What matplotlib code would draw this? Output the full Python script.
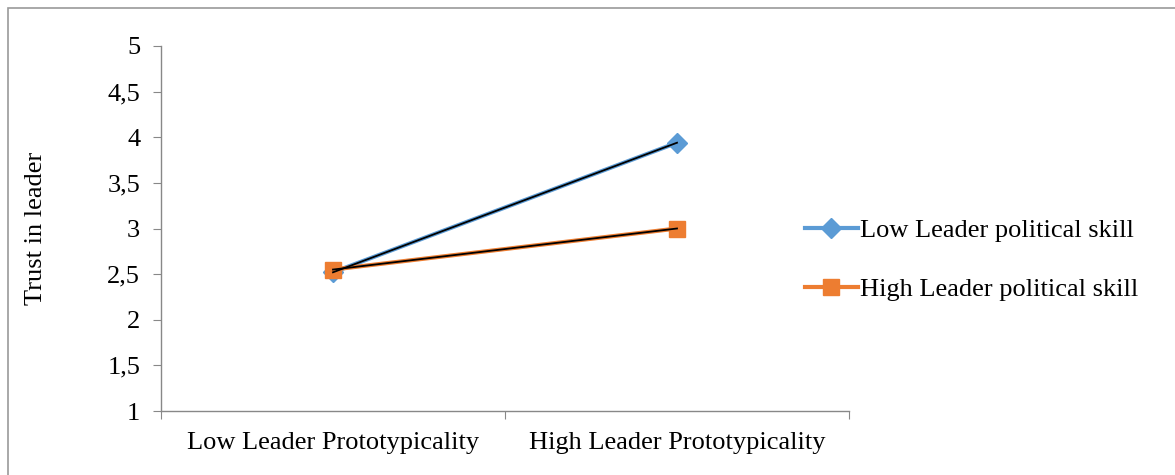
import matplotlib.pyplot as plt
from matplotlib.patches import Rectangle

plt.rcParams['font.family'] = ['Liberation Serif', 'DejaVu Serif']

categories = ["Low Leader Prototypicality", "High Leader Prototypicality"]
series_names = ["Low Leader political skill", "High Leader political skill"]
low_skill = [2.52, 3.94]
high_skill = [2.55, 3.00]
y_ticks = [1, 1.5, 2, 2.5, 3, 3.5, 4, 4.5, 5]
y_labels = ["1", "1,5", "2", "2,5", "3", "3,5", "4", "4,5", "5"]

blue = "#5B9BD5"
orange = "#ED7D31"
spine_col = "#888888"
fs = 19

fig = plt.figure(figsize=(11.75, 4.75), dpi=100)
ax = fig.add_axes([161 / 1175, 1 - 411 / 475, (849 - 161) / 1175, (411 - 46) / 475])

# outer chart frame (cropped on right and bottom)
fig.patches.append(Rectangle((8 / 1175, -0.1), 1.2, 1 - 8 / 475 + 0.1,
                             transform=fig.transFigure, fill=False,
                             edgecolor="#9a9a9a", linewidth=1.2))

x = [0, 1]
ax.plot(x, low_skill, color=blue, lw=3, marker="D", ms=10, label=series_names[0], zorder=3)
ax.plot(x, high_skill, color=orange, lw=3, marker="s", ms=12, label=series_names[1], zorder=4)
# thin dark lines drawn over the coloured ones
ax.plot(x, low_skill, color="black", lw=1.3, zorder=5)
ax.plot(x, high_skill, color="black", lw=1.3, zorder=5)

ax.set_xlim(-0.5, 1.5)
ax.set_ylim(1, 5)
ax.set_yticks(y_ticks)
ax.set_yticklabels(y_labels, fontsize=fs)
ax.set_xticks([-0.5, 0.5, 1.5])
ax.set_xticklabels([])
ax.set_xticks(x, minor=True)
ax.set_xticklabels(categories, minor=True, fontsize=fs)
ax.tick_params(axis="x", which="minor", length=0, pad=15)
ax.tick_params(axis="x", which="major", length=6, color=spine_col, direction="out")
ax.tick_params(axis="y", length=6, color=spine_col, direction="out", pad=9)

for s in ["top", "right"]:
    ax.spines[s].set_visible(False)
for s in ["left", "bottom"]:
    ax.spines[s].set_color(spine_col)
    ax.spines[s].set_linewidth(1)

ax.set_ylabel("Trust in leader", fontsize=fs)
ax.yaxis.set_label_coords(-0.166, 0.5)

leg = ax.legend(loc="center left", bbox_to_anchor=(781 / 1175, 1 - 260 / 475),
                bbox_transform=fig.transFigure, frameon=False, fontsize=fs,
                handlelength=2.0, handletextpad=0.1, labelspacing=1.33)

fig.savefig("out.png", dpi=100, facecolor="white")
